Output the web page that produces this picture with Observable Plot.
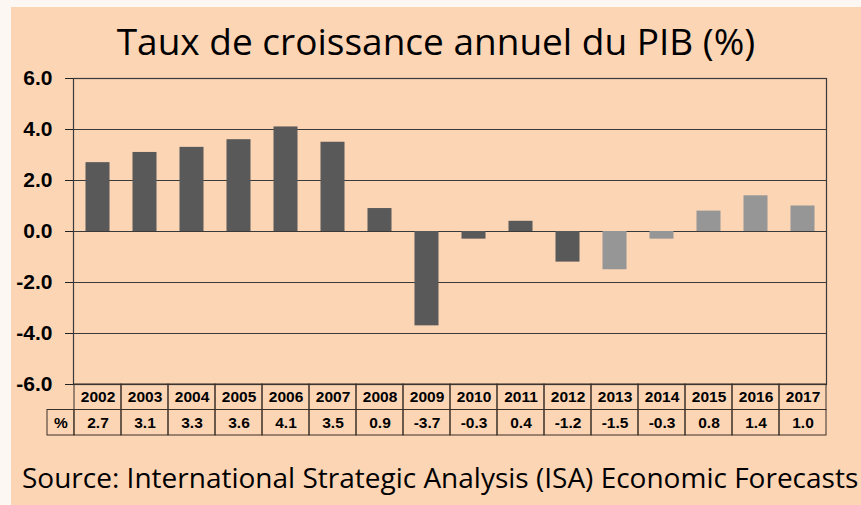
<!DOCTYPE html>
<html><head><meta charset="utf-8">
<script src="https://cdn.jsdelivr.net/npm/d3@7"></script>
<script src="https://cdn.jsdelivr.net/npm/@observablehq/plot@0.6"></script>
<style>
body{margin:0;background:#fdf7f3;width:861px;height:505px;overflow:hidden;position:relative}
#panel{position:absolute;left:11px;top:7px;width:850px;height:498px;background:#fcd5b5}
#title{position:absolute;left:0;width:850px;top:14.5px;text-align:center;font-family:"Open Sans",sans-serif;font-size:37px;color:#000;line-height:1;white-space:nowrap}
#chart{position:absolute;left:0;top:55px}
#source{position:absolute;left:11px;top:456px;font-family:"Open Sans",sans-serif;font-size:28px;line-height:1;color:#000;white-space:nowrap}
</style></head>
<body>
<div id="panel">
  <div id="title">Taux de croissance annuel du PIB (%)</div>
  <div id="chart"></div>
  <div id="source">Source: International Strategic Analysis (ISA) Economic Forecasts</div>
</div>
<script>
const years = ["2002","2003","2004","2005","2006","2007","2008","2009","2010","2011","2012","2013","2014","2015","2016","2017"];
const growth = [2.7, 3.1, 3.3, 3.6, 4.1, 3.5, 0.9, -3.7, -0.3, 0.4, -1.2, -1.5, -0.3, 0.8, 1.4, 1.0];
const lightFrom = 2013;
const yTicks = [-6, -4, -2, 0, 2, 4, 6];
const rowLabel = "%";
// table rows sit below the y range, one data unit per row
const headerRow = [-7, -6];
const valueRow = [-8, -7];

const data = years.map((year, i) => ({year, value: growth[i], group: +year >= lightFrom ? "later" : "earlier"}));
const fmt = d => d.toFixed(1);
const W = 850, ML = 62, MR = 35;
const step = (W - ML - MR) / years.length;

const chart = Plot.plot({
  width: W, height: 380, marginLeft: ML, marginRight: MR, marginTop: 16, marginBottom: 58,
  style: {background: "transparent", fontFamily: "'Liberation Sans', Arial, sans-serif", color: "#000", overflow: "visible"},
  x: {type: "band", domain: years, padding: 0, axis: null},
  y: {domain: [-6, 6], axis: null},
  color: {domain: ["earlier", "later"], range: ["#595959", "#969696"]},
  marks: [
    Plot.gridY(yTicks, {stroke: "#3a3a3a", strokeOpacity: 1, strokeWidth: 1.2}),
    Plot.barY(data, {x: "year", y: "value", fill: "group", insetLeft: 11.5, insetRight: 11.5}),
    Plot.frame({stroke: "#3a3a3a", strokeWidth: 1.2}),
    Plot.axisY(yTicks, {tickSize: 8, tickPadding: 13, tickFormat: fmt, fontSize: 21, fontWeight: "bold", stroke: "#222", label: null}),
    // data table
    Plot.barY(data, {x: "year", y1: () => headerRow[0], y2: () => headerRow[1], fill: "none", stroke: "#3a3028", strokeWidth: 1}),
    Plot.barY(data, {x: "year", y1: () => valueRow[0], y2: () => valueRow[1], fill: "none", stroke: "#3a3028", strokeWidth: 1}),
    Plot.barY([rowLabel], {x: () => years[0], y1: () => valueRow[0], y2: () => valueRow[1], fill: "none", stroke: "#3a3028", strokeWidth: 1, insetRight: step - 27, dx: -27}),
    Plot.text(data, {x: "year", y: () => (headerRow[0] + headerRow[1]) / 2, text: "year", fontSize: 15.5, fontWeight: "bold", fill: "#000"}),
    Plot.text(data, {x: "year", y: () => (valueRow[0] + valueRow[1]) / 2, text: d => fmt(d.value), fontSize: 15.5, fontWeight: "bold", fill: "#000"}),
    Plot.text([rowLabel], {x: () => years[0], y: () => (valueRow[0] + valueRow[1]) / 2, text: d => d, fontSize: 15.5, fontWeight: "bold", fill: "#000", dx: -(step / 2 + 13.5)})
  ]
});
document.getElementById("chart").appendChild(chart);
</script>
</body></html>
